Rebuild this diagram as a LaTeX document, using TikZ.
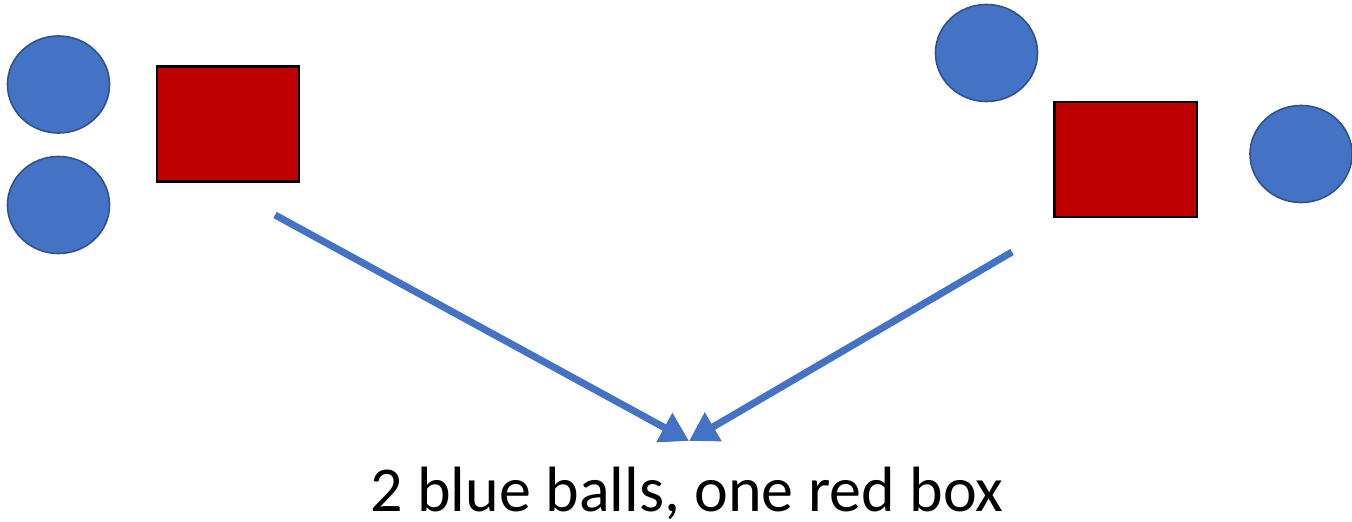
\documentclass[tikz,border=0pt]{standalone}
\usepackage{fontspec}
\setmainfont{Carlito}
\usetikzlibrary{arrows.meta,positioning,shapes.geometric}
\definecolor{BallBlue}{HTML}{4472C4}
\definecolor{BallEdge}{HTML}{2F528F}
\definecolor{BoxRed}{HTML}{C00000}

\begin{document}
\begin{tikzpicture}[x=0.01cm,y=-0.01cm,
  ball/.style={ellipse,draw=BallEdge,fill=BallBlue,line width=0.45pt,minimum width=1.02cm,minimum height=0.97cm,inner sep=0pt},
  redbox/.style={rectangle,draw=black,fill=BoxRed,line width=0.6pt,minimum width=1.42cm,minimum height=1.15cm,inner sep=0pt},
  flow/.style={draw=BallBlue,line width=2pt,-{Triangle[length=8pt,width=9pt]}},
  caption/.style={font=\fontsize{18.2}{21}\selectfont,inner sep=0pt}
]
\useasboundingbox (0,0) rectangle (1352,522);
% left group
\node[ball] (ball1) at (58.5,84.5) {};
\node[ball] (ball2) at (58.5,205) {};
\node[redbox] (box1) at (228,124) {};
% right group
\node[ball] (ball3) at (986.5,53) {};
\node[redbox] (box2) at (1125.5,159.5) {};
\node[ball] (ball4) at (1301,154) {};
% caption and arrows
\node[caption] (cap) at (687,493) {2 blue balls, one red box};
\coordinate (lstart) at (275,215);
\coordinate (rstart) at (1012,252);
\coordinate (tip) at (689,441);
\foreach \s in {lstart,rstart} {
  \draw[flow] (\s) -- (tip);
}
\end{tikzpicture}
\end{document}
